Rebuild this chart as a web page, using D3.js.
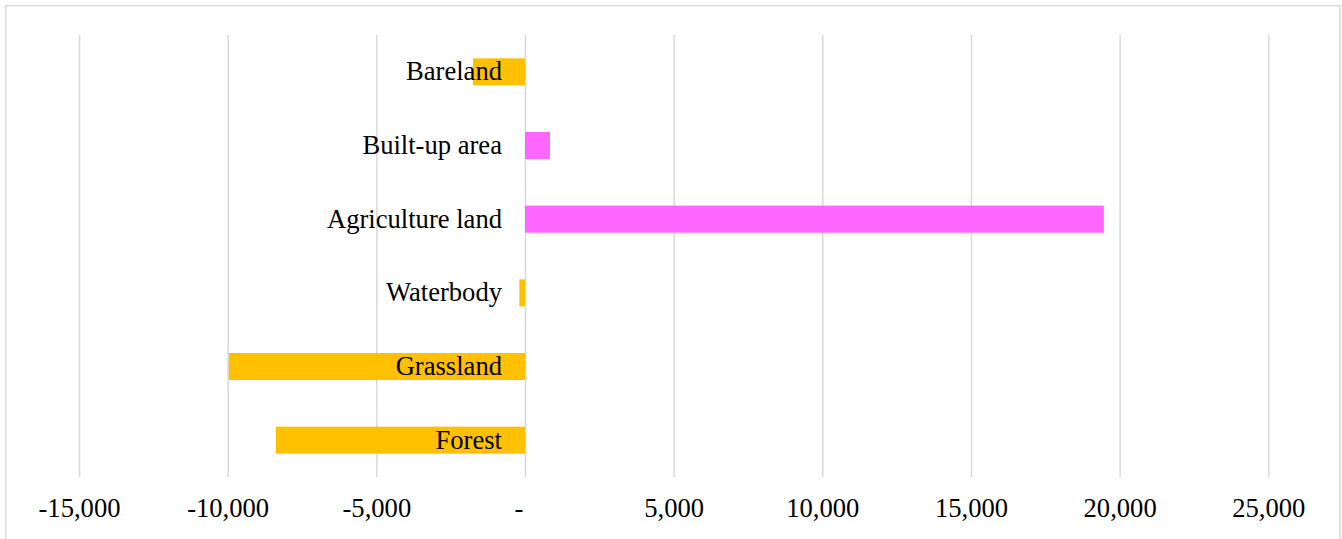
<!DOCTYPE html>
<html>
<head>
<meta charset="utf-8">
<script src="https://cdn.jsdelivr.net/npm/d3@7"></script>
<style>
  body { margin: 0; background: #fff; }
  svg { display: block; }
</style>
</head>
<body>
<div id="chart"></div>
<script>
// Data
const categories = ["Bareland", "Built-up area", "Agriculture land", "Waterbody", "Grassland", "Forest"];
const changeValues = [-1750, 840, 19470, -190, -9960, -8380];
const tickValues = [-15000, -10000, -5000, 0, 5000, 10000, 15000, 20000, 25000];

let width = 1342;
let height = 539;

let paddingLeft = 79;
let paddingRight = 1342 - 1268.3;
let paddingTop = 35;
let paddingBottom = 539 - 477;

let plotHeight = height - paddingTop - paddingBottom;

let fontFamily = "'Liberation Serif', 'Times New Roman', serif";
let fontSize = "26.6px";

let svg = d3.select("#chart").append("svg")
  .attr("width", width)
  .attr("height", height);

// outer frame
svg.append("rect")
  .attr("x", 5.7)
  .attr("y", 5.7)
  .attr("width", 1334.3)
  .attr("height", 560)
  .style("fill", "none")
  .style("stroke", "#d9d9d9")
  .style("stroke-width", 1.5);

// Scales
let x = d3.scaleLinear()
  .domain([-15000, 25000])
  .range([paddingLeft, width - paddingRight]);

let y = d3.scaleBand()
  .domain(categories)
  .range([paddingTop, paddingTop + plotHeight])
  .paddingInner(0.633)
  .paddingOuter(0.3165);

// Axis with gridlines
let fmt = d3.format(",");
let xAxis = d3.axisBottom(x)
  .tickValues(tickValues)
  .tickSizeInner(-plotHeight)
  .tickSizeOuter(0)
  .tickPadding(21)
  .tickFormat(d => d === 0 ? "-\u00A0\u00A0" : fmt(d).replace("\u2212", "-"));

let axisG = svg.append("g")
  .attr("transform", "translate(0," + (paddingTop + plotHeight) + ")")
  .call(xAxis);

axisG.select(".domain").remove();
axisG.selectAll(".tick line")
  .style("stroke", "#d9d9d9")
  .style("stroke-width", 1.5);
axisG.selectAll(".tick text")
  .style("font-family", fontFamily)
  .style("font-size", fontSize)
  .style("fill", "#000");

// Bars
let rows = categories.map((c, i) => ({ cat: c, value: changeValues[i] }));

svg.append("g").selectAll("rect")
  .data(rows)
  .enter().append("rect")
  .attr("x", d => x(Math.min(0, d.value)))
  .attr("y", d => y(d.cat))
  .attr("width", d => Math.abs(x(d.value) - x(0)))
  .attr("height", y.bandwidth())
  .style("fill", d => d.value < 0 ? "#FFC000" : "#FF66FF");

// Category labels next to the zero line
svg.append("g").selectAll("text")
  .data(rows)
  .enter().append("text")
  .attr("x", x(0) - 23)
  .attr("y", d => y(d.cat) + y.bandwidth() / 2)
  .attr("dy", "0.32em")
  .attr("text-anchor", "end")
  .style("font-family", fontFamily)
  .style("font-size", fontSize)
  .style("fill", "#000")
  .text(d => d.cat);
</script>
</body>
</html>
